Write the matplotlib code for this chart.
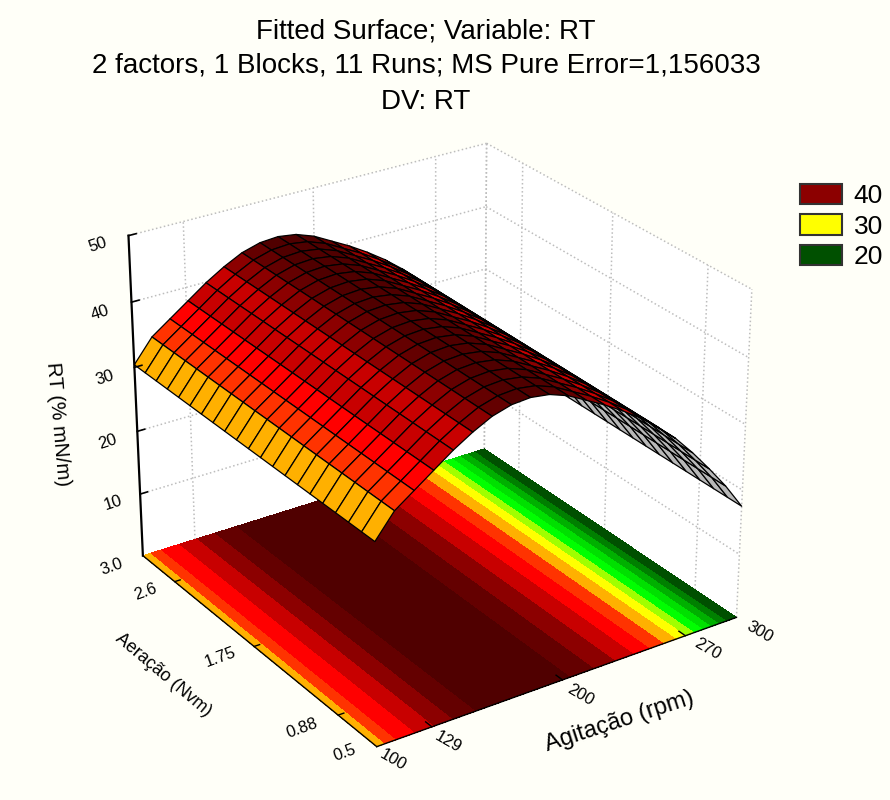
import numpy as np
import matplotlib
matplotlib.use("Agg")
from matplotlib import pyplot as plt
from matplotlib.colors import to_rgba
from matplotlib.patches import Patch

plt.rcParams['font.family'] = ['Liberation Sans', 'DejaVu Sans']

# RT, every 10 rpm; aeration has no visible effect
rpm_values = [100, 110, 120, 130, 140, 150, 160, 170, 180, 190, 200,
              210, 220, 230, 240, 250, 260, 270, 280, 290, 300]
rt_values = [30.4, 33.9, 35.9, 37.9, 39.9, 41.6, 43.0, 43.8, 44.0, 43.6, 42.6,
             41.1, 39.6, 37.9, 36.0, 33.8, 31.3, 28.3, 25.0, 21.5, 17.5]
aer_values = [0.500, 0.625, 0.750, 0.875, 1.000, 1.125, 1.250, 1.375, 1.500, 1.625, 1.750,
              1.875, 2.000, 2.125, 2.250, 2.375, 2.500, 2.625, 2.750, 2.875, 3.000]

# floor contour limits, and the limits the surface cells appear coloured with
levels = [0, 20, 21.7, 23.3, 25, 26.7, 28.3, 30, 32, 34, 36, 38, 40, 42, 60]
surface_levels = [0, 20, 21.7, 23.3, 25, 26.7, 28.3, 30, 32, 34, 37, 40.5, 42.5, 43.4, 60]
band_colors = ['#005000', '#008000', '#00b000', '#00e000', '#00ff00', '#a0ff00', '#ffff00',
               '#ffb000', '#ff3300', '#ff0000', '#c80000', '#8c0000', '#640000', '#500000']

rpm_ticks = [100, 129, 200, 270, 300]
aer_ticks = [0.5, 0.88, 1.75, 2.63, 3.0]
rt_ticks = [10, 20, 30, 40, 50]

legend_labels = ['40', '30', '20']
legend_colors = ['#8c0000', '#ffff00', '#005000']

ELEV, AZIM = 27, -124
FOCAL = 0.7
bg = '#fffff8'
W, H = 890, 800


def px(x, y):
    return x / W, 1 - y / H


fig = plt.figure(figsize=(8.9, 8), dpi=100, facecolor=bg)
ax = fig.add_axes([-0.025, -0.11, 1.0, 1.12], projection='3d', computed_zorder=False)
ax.set_facecolor('none')
ax.view_init(elev=ELEV, azim=AZIM)
ax.set_proj_type('persp', focal_length=FOCAL)
ax.set_box_aspect((1, 1.03, 0.84), zoom=0.785)
ax.set_xlim(100, 300, view_margin=0)
ax.set_ylim(0.5, 3.0, view_margin=0)
ax.set_zlim(0, 50, view_margin=0)

ax.grid(False)
ax.set_xticks([])
ax.set_yticks([])
ax.set_zticks([])
for axis in (ax.xaxis, ax.yaxis, ax.zaxis):
    axis.set_pane_color('white')
    axis.pane.set_edgecolor('none')
    axis.line.set_color('none')

X, Y = np.meshgrid(rpm_values, aer_values)
Z = np.tile(rt_values, (len(aer_values), 1))

# dotted grid on the back walls
dots = dict(color='#bdbdbd', ls=':', lw=1.1, zorder=1)
for z in rt_ticks:
    ax.plot([100, 300], [3, 3], [z, z], **dots)
    ax.plot([300, 300], [3, 0.5], [z, z], **dots)
for r in rpm_ticks[1:]:
    ax.plot([r, r], [3, 3], [0, 50], **dots)
for a in aer_ticks:
    ax.plot([300, 300], [a, a], [0, 50], **dots)

# contour projection on the floor
ax.contourf(X, Y, Z, levels=levels, colors=band_colors, zdir='z', offset=0, zorder=2)
ax.plot([100, 100], [3, 0.5], [0, 0], color='black', lw=1, zorder=2.5)
ax.plot([100, 300], [0.5, 0.5], [0, 0], color='black', lw=1, zorder=2.5)

# facet colours: contour band on top, grey where the underside is seen
box = np.array(ax.get_box_aspect())
el, az = np.radians(ELEV), np.radians(AZIM)
eye = 0.5 * box + 10 * FOCAL * np.array([np.cos(el) * np.cos(az), np.cos(el) * np.sin(az), np.sin(el)])
U = np.stack([(X - 100) / 200 * box[0], (Y - 0.5) / 2.5 * box[1], Z / 50 * box[2]], axis=-1)
d1 = U[1:, 1:] - U[:-1, :-1]
d2 = U[:-1, 1:] - U[1:, :-1]
normal = np.cross(d2, d1)
normal[normal[..., 2] < 0] *= -1
centre = U[:-1, :-1] + d1 / 2
facing = np.sum(normal * (eye - centre), axis=-1)
idx = np.digitize(Z[:-1, :-1], surface_levels) - 1
fc = np.array([to_rgba(c) for c in band_colors])[idx]
fc[facing < 0] = to_rgba('#b8b8b8')
ax.plot_surface(X, Y, Z, facecolors=fc, rstride=1, cstride=1, shade=False,
                edgecolor='black', linewidth=0.9, antialiased=True, zorder=3)

# axis lines and ticks
ax.plot([100, 100], [3, 3], [0, 50], color='black', lw=1.6, zorder=4)
for z in rt_ticks:
    ax.plot([100, 104], [3, 3], [z, z], color='black', lw=1.2, zorder=4)
for a in aer_ticks[1:-1]:
    ax.plot([100, 103], [a, a], [0, 0], color='black', lw=1, zorder=4)
for r in rpm_ticks[1:-1]:
    ax.plot([r, r], [0.5, 0.56], [0, 0], color='black', lw=1, zorder=4)

# titles
fig.text(*px(426, 32), 'Fitted Surface; Variable: RT', fontsize=20, ha='center', va='center')
fig.text(*px(426, 66), '2 factors, 1 Blocks, 11 Runs; MS Pure Error=1,156033', fontsize=20, ha='center', va='center')
fig.text(*px(426, 102), 'DV: RT', fontsize=20, ha='center', va='center')

# axis labels sit outside the box, tilted with the walls
rt_xy = [(113, 503), (108, 442), (105, 378), (100, 313), (98, 245)]
for t, (x, y) in zip(rt_ticks, rt_xy):
    fig.text(*px(x, y), str(t), fontsize=12, ha='center', va='center', rotation=18)
aer_text = ['0.5', '0.88', '1.75', '2.6', '3.0']
aer_xy = [(345, 753), (302, 728), (220, 657), (145, 592), (112, 567)]
for t, (x, y) in zip(aer_text, aer_xy):
    fig.text(*px(x, y), t, fontsize=12, ha='center', va='center', rotation=20)
rpm_xy = [(393, 760), (448, 742), (580, 695), (707, 649), (760, 632)]
for t, (x, y) in zip(rpm_ticks, rpm_xy):
    fig.text(*px(x, y), str(t), fontsize=12, ha='center', va='center', rotation=-30)

fig.text(*px(58, 424), 'RT (% mN/m)', fontsize=14.8, ha='center', va='center', rotation=-85)
fig.text(*px(163, 675), 'Aeração (Nvm)', fontsize=12.8, ha='center', va='center', rotation=-40)
fig.text(*px(619, 722), 'Agitação (rpm)', fontsize=17, ha='center', va='center', rotation=18)

handles = [Patch(facecolor=c, edgecolor='#333333', linewidth=1.5) for c in legend_colors]
fig.legend(handles, legend_labels, loc='upper left', bbox_to_anchor=px(776, 160), frameon=False,
           fontsize=19, handlelength=1.6, handleheight=0.8, labelspacing=0.24, handletextpad=0.45)

fig.savefig('out.png', dpi=100, facecolor=bg)
